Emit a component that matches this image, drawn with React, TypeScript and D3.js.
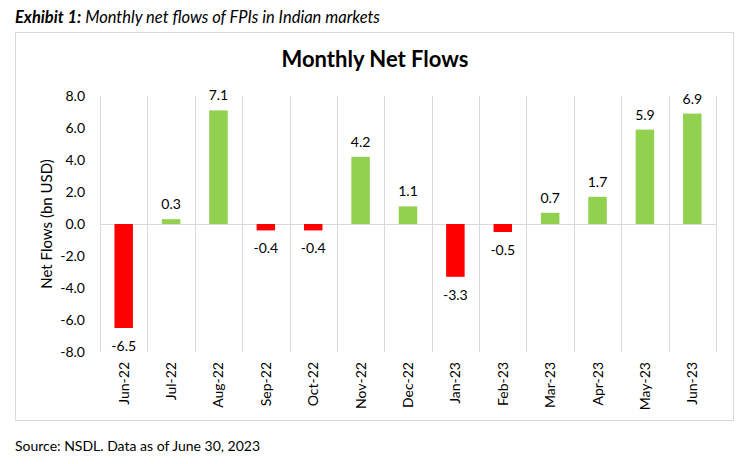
import React, { useEffect, useRef } from 'react';
import * as d3 from 'd3';

const months = ['Jun-22', 'Jul-22', 'Aug-22', 'Sep-22', 'Oct-22', 'Nov-22', 'Dec-22', 'Jan-23', 'Feb-23', 'Mar-23', 'Apr-23', 'May-23', 'Jun-23'];
const flows = [-6.5, 0.3, 7.1, -0.4, -0.4, 4.2, 1.1, -3.3, -0.5, 0.7, 1.7, 5.9, 6.9];
const yTicks = [-8, -6, -4, -2, 0, 2, 4, 6, 8];

const FONT = 'Lato, "Open Sans", sans-serif';
// plain hyphen for negatives, like the source
const fmt = (v: number) => v.toFixed(1);

const App: React.FC = () => {
  const svgRef = useRef<SVGSVGElement>(null);

  useEffect(() => {
    if (!svgRef.current) return;
    const W = 750, H = 464;
    const margin = { top: 96, right: 34, bottom: 112, left: 100 };
    const width = W - margin.left - margin.right;
    const height = H - margin.top - margin.bottom;

    d3.select(svgRef.current).selectAll('*').remove();
    const root = d3.select(svgRef.current)
      .attr('width', W)
      .attr('height', H)
      .style('font-family', FONT);

    root.append('rect')
      .attr('width', W).attr('height', H).attr('fill', '#ffffff');

    // exhibit caption
    const cap = root.append('text')
      .attr('x', 15).attr('y', 23)
      .attr('font-size', 16.5)
      .attr('font-style', 'italic')
      .attr('fill', '#000');
    cap.append('tspan').attr('font-weight', 'bold').text('Exhibit 1:');
    cap.append('tspan').text(' Monthly net flows of FPIs in Indian markets');

    // chart frame
    root.append('rect')
      .attr('x', 15.5).attr('y', 32.5)
      .attr('width', 718).attr('height', 388)
      .attr('fill', 'none')
      .attr('stroke', '#d9d9d9');

    root.append('text')
      .attr('x', 375).attr('y', 67)
      .attr('text-anchor', 'middle')
      .attr('font-size', 22)
      .attr('font-weight', 'bold')
      .attr('fill', '#000')
      .text('Monthly Net Flows');

    const g = root.append('g')
      .attr('transform', `translate(${margin.left},${margin.top})`);

    const x = d3.scaleBand<string>()
      .domain(months)
      .range([0, width])
      .paddingInner(0.61)
      .paddingOuter(0.305);

    const y = d3.scaleLinear().domain([-8, 8]).range([height, 0]);

    // category separators
    const step = x.step();
    const seps = d3.range(months.length + 1).map(i => i * step);
    g.selectAll('line.sep')
      .data(seps)
      .enter()
      .append('line')
      .attr('x1', d => Math.round(d) + 0.5)
      .attr('x2', d => Math.round(d) + 0.5)
      .attr('y1', 0)
      .attr('y2', height)
      .attr('stroke', '#d9d9d9');

    // zero line
    g.append('line')
      .attr('x1', 0).attr('x2', width)
      .attr('y1', y(0) + 0.5).attr('y2', y(0) + 0.5)
      .attr('stroke', '#d9d9d9');

    // y axis
    const yAxis = g.append('g')
      .call(d3.axisLeft(y).tickValues(yTicks).tickFormat(d => fmt(+d)).tickSize(0).tickPadding(15));
    yAxis.select('.domain').remove();
    yAxis.selectAll('text')
      .attr('fill', '#000')
      .style('font-size', '14px')
      .style('font-family', FONT);

    // bars
    g.selectAll('rect.bar')
      .data(flows)
      .enter()
      .append('rect')
      .attr('x', (_d, i) => x(months[i]) as number)
      .attr('width', x.bandwidth())
      .attr('y', d => y(Math.max(0, d)))
      .attr('height', d => Math.abs(y(d) - y(0)))
      .attr('fill', d => (d < 0 ? '#ff0000' : '#92d050'));

    // data labels
    g.selectAll('text.lbl')
      .data(flows)
      .enter()
      .append('text')
      .attr('x', (_d, i) => (x(months[i]) as number) + x.bandwidth() / 2)
      .attr('y', d => (d < 0 ? y(d) + 23 : y(d) - 10))
      .attr('text-anchor', 'middle')
      .attr('font-size', 14)
      .attr('fill', '#000')
      .text(d => fmt(d));

    // x labels, rotated
    g.selectAll('text.xl')
      .data(months)
      .enter()
      .append('text')
      .attr('transform', d => `translate(${(x(d) as number) + x.bandwidth() / 2 + 5},${height + 10}) rotate(-90)`)
      .attr('text-anchor', 'end')
      .attr('font-size', 14)
      .attr('fill', '#000')
      .text(d => d);

    // y title
    root.append('text')
      .attr('transform', `translate(52,${margin.top + y(0)}) rotate(-90)`)
      .attr('text-anchor', 'middle')
      .attr('font-size', 15)
      .attr('fill', '#000')
      .text('Net Flows (bn USD)');

    // source
    root.append('text')
      .attr('x', 15).attr('y', 451)
      .attr('font-size', 14)
      .attr('fill', '#000')
      .text('Source: NSDL. Data as of June 30, 2023');
  }, []);

  return (
    <div style={{ position: 'absolute', left: 0, top: 0 }}>
      <svg ref={svgRef}></svg>
    </div>
  );
};

export default App;
